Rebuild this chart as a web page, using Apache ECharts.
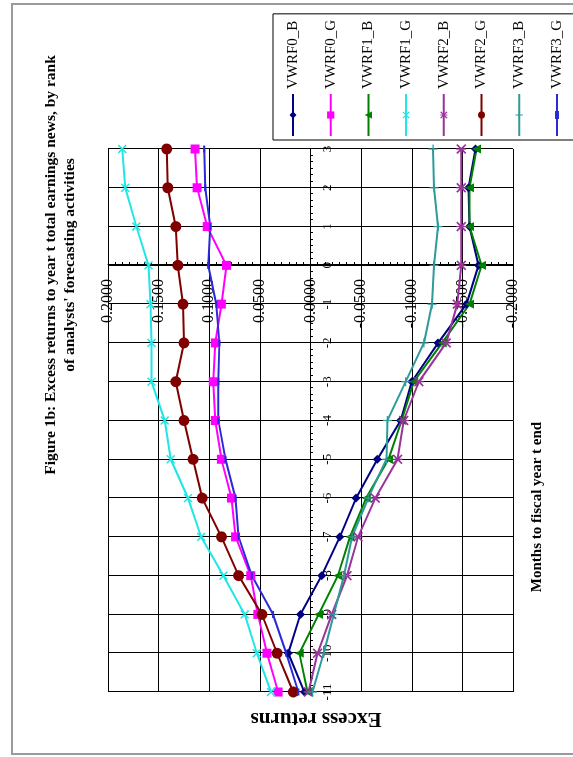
<!DOCTYPE html>
<html>
<head>
<meta charset="utf-8">
<script src="https://cdn.jsdelivr.net/npm/echarts@6/dist/echarts.min.js"></script>
<style>
html,body{margin:0;padding:0;background:#fff;}
#wrap{position:absolute;left:0;top:0;width:573px;height:757px;overflow:hidden;background:#fff;}
#chart{position:absolute;left:0;top:0;width:757px;height:573px;transform-origin:0 0;transform:translate(0,757px) rotate(-90deg);}
</style>
</head>
<body>
<div id="wrap"><div id="chart"></div></div>
<script>
// Months to fiscal year t end
const months = [-11,-10,-9,-8,-7,-6,-5,-4,-3,-2,-1,0,1,2,3];
const seriesNames = ['VWRF0_B','VWRF0_G','VWRF1_B','VWRF1_G','VWRF2_B','VWRF2_G','VWRF3_B','VWRF3_G'];
// Excess returns per series
const vwrf0B = [0.006, 0.022, 0.010, -0.011, -0.029, -0.045, -0.066, -0.089, -0.100, -0.126, -0.154, -0.166, -0.157, -0.156, -0.163];
const vwrf0G = [0.032, 0.043, 0.052, 0.059, 0.074, 0.078, 0.088, 0.094, 0.096, 0.094, 0.088, 0.083, 0.102, 0.112, 0.114];
const vwrf1B = [0.003, 0.011, -0.008, -0.027, -0.039, -0.055, -0.077, -0.090, -0.102, -0.130, -0.157, -0.169, -0.157, -0.157, -0.164];
const vwrf1G = [0.039, 0.053, 0.065, 0.086, 0.108, 0.121, 0.138, 0.144, 0.157, 0.157, 0.158, 0.160, 0.172, 0.183, 0.186];
const vwrf2B = [0.002, -0.007, -0.021, -0.036, -0.047, -0.064, -0.086, -0.092, -0.107, -0.134, -0.145, -0.149, -0.149, -0.149, -0.149];
const vwrf2G = [0.017, 0.033, 0.048, 0.071, 0.088, 0.107, 0.116, 0.125, 0.133, 0.125, 0.126, 0.131, 0.133, 0.141, 0.142];
const vwrf3B = [-0.002, -0.013, -0.023, -0.033, -0.041, -0.057, -0.075, -0.076, -0.094, -0.112, -0.120, -0.122, -0.126, -0.122, -0.121];
const vwrf3G = [0.012, 0.024, 0.037, 0.058, 0.071, 0.074, 0.084, 0.091, 0.091, 0.090, 0.093, 0.101, 0.099, 0.104, 0.105];

const titleText = "Figure 1b: Excess returns to year t total earnings news, by rank\nof analysts' forecasting activities";
const xName = 'Months to fiscal year t end';
const yName = 'Excess returns';

const SERIF = "'Liberation Serif', 'Times New Roman', serif";
const xSym = 'path://M0,1.2L1.2,0L5,3.8L8.8,0L10,1.2L6.2,5L10,8.8L8.8,10L5,6.2L1.2,10L0,8.8L3.8,5Z';
const starSym = 'path://M0,1.2L1.2,0L4.4,3.2L4.4,0L5.6,0L5.6,3.2L8.8,0L10,1.2L6.2,5L10,8.8L8.8,10L5.6,6.8L5.6,10L4.4,10L4.4,6.8L1.2,10L0,8.8L3.8,5Z';
const plusSym = 'path://M4.3,0L5.7,0L5.7,4.3L10,4.3L10,5.7L5.7,5.7L5.7,10L4.3,10L4.3,5.7L0,5.7L0,4.3L4.3,4.3Z';
const dashSym = 'path://M0,0L10,0L10,3L0,3Z';
const dashLegendIcon = 'path://M0,2L42,2L42,4L0,4Z M17,1L25,1L25,5L17,5Z';

const styles = [
  {color:'#000080', symbol:'diamond', size:9},
  {color:'#ff00ff', symbol:'rect', size:9},
  {color:'#008000', symbol:'triangle', size:9},
  {color:'#22e5e5', symbol:xSym, size:9},
  {color:'#993399', symbol:starSym, size:10},
  {color:'#800000', symbol:'circle', size:11},
  {color:'#2f9a9a', symbol:plusSym, size:9},
  {color:'#2a2ad8', symbol:dashSym, size:7}
];
const allValues = [vwrf0B, vwrf0G, vwrf1B, vwrf1G, vwrf2B, vwrf2G, vwrf3B, vwrf3G];

// grid geometry (unrotated frame)
const G = {left:65, right:149, top:108, bottom:60};
const plotW = 757 - G.left - G.right;  // 543
const plotH = 573 - G.top - G.bottom;  // 405
// axes cross at month 0 / value 0
const yAxisOffset = -Math.round(plotW * (0 - (-11)) / 14);
const xAxisOffset = -Math.round(plotH * (0 - (-0.2)) / 0.4);

const chart = echarts.init(document.getElementById('chart'), null, {renderer:'canvas'});
chart.setOption({
  animation:false,
  backgroundColor:'#fff',
  grid:{left:G.left, right:G.right, top:G.top, bottom:G.bottom, containLabel:false},
  xAxis:{
    type:'value', min:-11, max:3, interval:1, position:'bottom', offset:xAxisOffset,
    axisLine:{onZero:false, lineStyle:{color:'#000', width:1}},
    axisTick:{show:true, length:5, lineStyle:{color:'#000'}},
    minorTick:{show:true, splitNumber:6, length:3, lineStyle:{color:'#000'}},
    axisLabel:{color:'#000', fontFamily:SERIF, fontSize:13, margin:11},
    splitLine:{show:true, lineStyle:{color:'#000', width:1}}
  },
  yAxis:{
    type:'value', min:-0.2, max:0.2, interval:0.05, position:'left', offset:yAxisOffset,
    axisLine:{onZero:false, lineStyle:{color:'#000', width:1}},
    axisTick:{show:true, inside:true, length:5, lineStyle:{color:'#000'}},
    minorTick:{show:true, splitNumber:7, length:3, lineStyle:{color:'#000'}},
    axisLabel:{color:'#000', fontFamily:SERIF, fontSize:16, margin:14,
      formatter:function(v){ return (Math.abs(v) < 1e-9 ? 0 : v).toFixed(4); }},
    splitLine:{show:true, lineStyle:{color:'#000', width:1}}
  },
  legend:{
    orient:'vertical', left:617, top:273, height:360,
    itemWidth:42, itemHeight:9, itemGap:21.7,
    padding:[12, 6, 60, 3],
    backgroundColor:'#fff', borderColor:'#000', borderWidth:1,
    textStyle:{fontFamily:SERIF, fontSize:15, color:'#000', lineHeight:16},
    data: seriesNames.map(function(n){
      return n === 'VWRF3_G' ? {name:n, icon:dashLegendIcon} : {name:n};
    })
  },
  graphic:[
    {type:'rect', silent:true, z:-10, shape:{x:3, y:12, width:750, height:620},
      style:{fill:'#fff', stroke:'#9a9a9a', lineWidth:2}},
    {type:'text', silent:true, x:492, y:60,
      style:{text:titleText, font:"bold 15.5px 'Liberation Serif'", fill:'#000',
        align:'center', verticalAlign:'middle', lineHeight:19}},
    {type:'text', silent:true, x:250, y:537,
      style:{text:xName, font:"bold 15px 'Liberation Serif'", fill:'#000',
        align:'center', verticalAlign:'middle'}},
    {type:'text', silent:true, x:39, y:316, rotation:Math.PI/2,
      style:{text:yName, font:"bold 21px 'Liberation Serif'", fill:'#000',
        align:'center', verticalAlign:'middle'}}
  ],
  series: seriesNames.map(function(name, i){
    return {
      name:name, type:'line',
      data: months.map(function(m, j){ return [m, allValues[i][j]]; }),
      symbol: styles[i].symbol, symbolSize: styles[i].size, symbolKeepAspect:true,
      showSymbol:true,
      lineStyle:{color:styles[i].color, width:2},
      itemStyle:{color:styles[i].color},
      emphasis:{disabled:true}
    };
  })
});
</script>
</body>
</html>
